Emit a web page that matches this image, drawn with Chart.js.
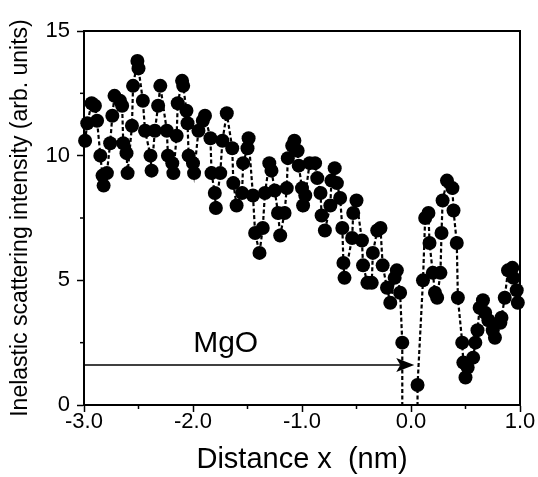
<!DOCTYPE html>
<html>
<head>
<meta charset="utf-8">
<script src="https://cdn.jsdelivr.net/npm/chart.js@4/dist/chart.umd.min.js"></script>
<style>
    html, body { margin: 0; padding: 0; background: #FFFFFF; }
    #wrap { width: 538px; height: 477px; }
</style>
</head>
<body>
<div id="wrap"><canvas id="eelsChart" width="538" height="477"></canvas></div>
<script>
const FONT = '"Liberation Sans", Arial, Helvetica, sans-serif';
const INK = '#000000';

// distance x (nm) left to right
const distances = [
    -2.99, -2.97, -2.93, -2.90, -2.88, -2.85, -2.83, -2.82, -2.79, -2.76,
    -2.74, -2.72, -2.67, -2.65, -2.64, -2.61, -2.60, -2.56, -2.55, -2.51,
    -2.50, -2.46, -2.44, -2.39, -2.38, -2.35, -2.32, -2.30, -2.24, -2.23,
    -2.19, -2.18, -2.15, -2.14, -2.10, -2.09, -2.06, -2.05, -2.04, -2.00,
    -1.99, -1.95, -1.91, -1.89, -1.84, -1.83, -1.80, -1.79, -1.75, -1.73,
    -1.69, -1.64, -1.63, -1.60, -1.55, -1.54, -1.50, -1.49, -1.45, -1.43,
    -1.39, -1.36, -1.34, -1.30, -1.28, -1.25, -1.22, -1.20, -1.16, -1.14,
    -1.13, -1.09, -1.07, -1.04, -1.03, -1.00, -0.99, -0.97, -0.93, -0.88,
    -0.86, -0.83, -0.82, -0.79, -0.74, -0.73, -0.70, -0.68, -0.65, -0.63,
    -0.62, -0.61, -0.54, -0.53, -0.50, -0.45, -0.44, -0.40, -0.36, -0.35,
    -0.31, -0.28, -0.26, -0.22, -0.19, -0.15, -0.13, -0.10, -0.08, -0.08,
    0.06, 0.06, 0.11, 0.13, 0.16, 0.17, 0.20, 0.22, 0.24, 0.27,
    0.28, 0.29, 0.33, 0.38, 0.39, 0.42, 0.43, 0.47, 0.48, 0.50,
    0.52, 0.57, 0.59, 0.61, 0.63, 0.66, 0.68, 0.71, 0.75, 0.77,
    0.82, 0.83, 0.86, 0.89, 0.93, 0.94, 0.97, 0.98
];

// inelastic scattering intensity (arb. units); the two -2 values dip below the axis
const intensities = [
    10.6, 11.3, 12.1, 12.0, 11.4, 10.0, 9.2, 8.8, 9.3, 10.5,
    11.6, 12.4, 12.2, 12.0, 10.5, 10.1, 9.3, 11.2, 12.8, 13.8,
    13.5, 12.2, 11.0, 10.0, 9.4, 11.0, 12.0, 12.8, 11.0, 10.0,
    9.7, 9.3, 10.8, 12.1, 13.0, 12.8, 11.8, 11.3, 10.0, 9.7,
    9.3, 11.0, 11.4, 11.6, 10.7, 9.3, 8.5, 7.9, 9.3, 10.6,
    11.7, 10.3, 8.9, 8.0, 8.5, 9.7, 10.3, 10.7, 8.4, 6.9,
    6.1, 7.1, 8.5, 9.7, 9.4, 8.6, 7.7, 6.8, 7.7, 8.7,
    9.9, 10.4, 10.6, 10.2, 9.6, 8.7, 8.0, 8.4, 9.7, 9.7,
    9.1, 8.5, 7.6, 7.0, 8.0, 9.0, 9.5, 8.9, 8.3, 7.1,
    5.7, 5.1, 6.7, 7.7, 8.2, 6.6, 5.6, 4.9, 4.9, 6.1,
    7.0, 7.1, 5.6, 4.7, 4.1, 5.1, 5.4, 4.5, 2.5, -2,
    -2, 0.8, 5.0, 7.5, 7.7, 6.5, 5.3, 4.5, 4.3, 5.3,
    6.9, 8.2, 9.0, 8.7, 7.8, 6.5, 4.3, 2.5, 1.7, 1.1,
    1.5, 1.9, 2.5, 3.0, 3.9, 4.2, 3.7, 3.4, 3.0, 2.7,
    3.3, 3.5, 4.3, 5.4, 5.5, 5.1, 4.6, 4.1
];

const xTickLabels = ['-3.0', '-2.0', '-1.0', '0.0', '1.0'];
const yTickLabels = ['0', '5', '10', '15'];

// MgO arrow: runs from the left axis to the interface, in data units
const arrowFrom = [-3.0, 1.6];
const arrowTo = [0.03, 1.6];
const mgoLabel = ['MgO', -1.7, 1.85];

const points = distances.map((x, i) => ({ x: x, y: intensities[i] }));

const isMajor = (v, step) => Math.abs(v / step - Math.round(v / step)) < 1e-6;

const figurePlugin = {
    id: 'figureDecor',
    afterDraw(chart) {
        const ctx = chart.ctx;
        const area = chart.chartArea;
        const xs = chart.scales.x;
        const ys = chart.scales.y;
        ctx.save();
        ctx.strokeStyle = INK;
        ctx.fillStyle = INK;
        ctx.lineWidth = 2;

        // top and right frame
        ctx.beginPath();
        ctx.moveTo(area.left, area.top);
        ctx.lineTo(area.right, area.top);
        ctx.lineTo(area.right, area.bottom);
        ctx.stroke();

        // short minor ticks
        ctx.lineWidth = 1.5;
        xs.ticks.forEach(t => {
            if (isMajor(t.value, 1)) return;
            const px = xs.getPixelForValue(t.value);
            ctx.beginPath();
            ctx.moveTo(px, area.bottom);
            ctx.lineTo(px, area.bottom + 4);
            ctx.stroke();
        });
        ys.ticks.forEach(t => {
            if (isMajor(t.value, 5)) return;
            const py = ys.getPixelForValue(t.value);
            ctx.beginPath();
            ctx.moveTo(area.left, py);
            ctx.lineTo(area.left - 4, py);
            ctx.stroke();
        });

        // arrow
        const x0 = xs.getPixelForValue(arrowFrom[0]);
        const y0 = ys.getPixelForValue(arrowFrom[1]);
        const x1 = xs.getPixelForValue(arrowTo[0]);
        const y1 = ys.getPixelForValue(arrowTo[1]);
        ctx.lineWidth = 1.5;
        ctx.beginPath();
        ctx.moveTo(x0, y0);
        ctx.lineTo(x1 - 14, y1);
        ctx.stroke();
        ctx.beginPath();
        ctx.moveTo(x1, y1);
        ctx.lineTo(x1 - 18, y1 - 7);
        ctx.lineTo(x1 - 14, y1);
        ctx.lineTo(x1 - 18, y1 + 7);
        ctx.closePath();
        ctx.fill();

        // label
        ctx.font = '30px ' + FONT;
        ctx.textAlign = 'center';
        ctx.textBaseline = 'bottom';
        ctx.fillText(mgoLabel[0], xs.getPixelForValue(mgoLabel[1]), ys.getPixelForValue(mgoLabel[2]));
        ctx.restore();
    }
};

new Chart(document.getElementById('eelsChart'), {
    type: 'scatter',
    data: {
        datasets: [{
            data: points,
            showLine: true,
            borderColor: INK,
            borderWidth: 2.2,
            borderDash: [4, 2.5],
            pointRadius: 7,
            pointHoverRadius: 7,
            pointBackgroundColor: INK,
            pointBorderWidth: 0,
            clip: { left: 10, top: 10, right: 10, bottom: 0 }
        }]
    },
    options: {
        responsive: false,
        animation: false,
        layout: { padding: { top: 31, right: 18, left: 0, bottom: 0 } },
        scales: {
            x: {
                type: 'linear',
                min: -3,
                max: 1,
                afterFit: scale => { scale.height = 72; },
                afterBuildTicks: scale => {
                    scale.ticks = [];
                    for (let v = scale.min; v <= scale.max + 1e-9; v += 0.5) scale.ticks.push({ value: Math.round(v * 10) / 10 });
                },
                border: { color: INK, width: 2 },
                grid: {
                    drawOnChartArea: false,
                    tickLength: 7,
                    tickWidth: 1.5,
                    tickColor: c => (c.tick && isMajor(c.tick.value, 1)) ? INK : 'rgba(0,0,0,0)'
                },
                ticks: {
                    color: INK,
                    padding: -3,
                    maxRotation: 0,
                    autoSkip: false,
                    font: { size: 22, family: FONT },
                    callback: v => isMajor(v, 1) ? xTickLabels[Math.round(v) + 3] : ''
                },
                title: {
                    display: true,
                    text: 'Distance x  (nm)',
                    color: INK,
                    font: { size: 29, family: FONT },
                    padding: { top: 0, bottom: 0 }
                }
            },
            y: {
                min: 0,
                max: 15,
                afterFit: scale => { scale.width = 84; },
                afterBuildTicks: scale => {
                    scale.ticks = [];
                    for (let v = 0; v <= 15; v += 2.5) scale.ticks.push({ value: v });
                },
                border: { color: INK, width: 2 },
                grid: {
                    drawOnChartArea: false,
                    tickLength: 7,
                    tickWidth: 1.5,
                    tickColor: c => (c.tick && isMajor(c.tick.value, 5)) ? INK : 'rgba(0,0,0,0)'
                },
                ticks: {
                    color: INK,
                    padding: 7,
                    autoSkip: false,
                    font: { size: 22, family: FONT },
                    callback: v => isMajor(v, 5) ? yTickLabels[Math.round(v / 5)] : ''
                },
                title: {
                    display: true,
                    text: 'Inelastic scattering intensity (arb. units)',
                    color: INK,
                    font: { size: 23, family: FONT },
                    padding: { top: 7, bottom: 0 }
                }
            }
        },
        plugins: {
            legend: { display: false },
            tooltip: { enabled: false },
            title: { display: false }
        }
    },
    plugins: [figurePlugin]
});
</script>
</body>
</html>
